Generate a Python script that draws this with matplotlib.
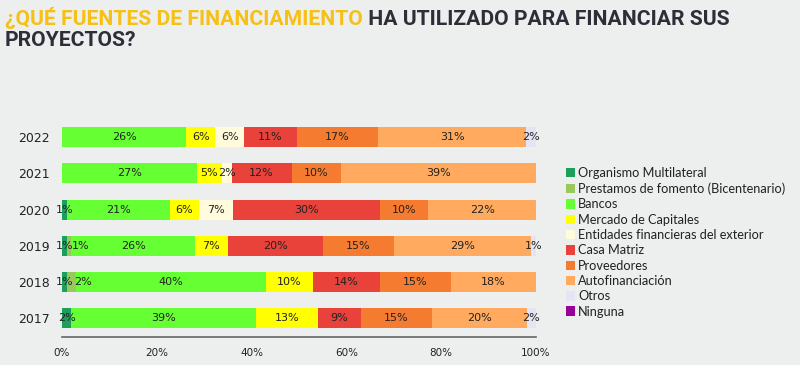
import matplotlib.pyplot as plt
import numpy as np

plt.rcParams['font.family'] = 'DejaVu Sans'

years = ['2017', '2018', '2019', '2020', '2021', '2022']
categories = ['Organismo Multilateral', 'Prestamos de fomento (Bicentenario)', 'Bancos',
              'Mercado de Capitales', 'Entidades financieras del exterior', 'Casa Matriz',
              'Proveedores', 'Autofinanciación', 'Otros', 'Ninguna']
colors = ['#1aa05a', '#98c95a', '#66ff33', '#ffff00', '#fffbdc', '#e8423a',
          '#f47b30', '#ffaa5e', '#e4e4f4', '#990099']

# percentages per category, one value per year (2017..2022)
organismo = [2, 1, 1, 1, 0, 0]
prestamos = [0, 2, 1, 0, 0, 0]
bancos = [39, 40, 26, 21, 27, 26]
mercado = [13, 10, 7, 6, 5, 6]
entidades = [0, 0, 0, 7, 2, 6]
casa_matriz = [9, 14, 20, 30, 12, 11]
proveedores = [15, 15, 15, 10, 10, 17]
autofin = [20, 18, 29, 22, 39, 31]
otros = [2, 0, 1, 0, 0, 2]
ninguna = [0, 0, 0, 0, 0, 0]

series = [organismo, prestamos, bancos, mercado, entidades, casa_matriz,
          proveedores, autofin, otros, ninguna]

bg = '#edeeee'
dark = '#2e2e38'

fig = plt.figure(figsize=(8, 3.65), dpi=100, facecolor=bg)
ax = fig.add_axes([0.0775, 0.0767, 0.5925, 0.597], facecolor=bg)

data = np.array(series, dtype=float)
totals = data.sum(axis=0)
shares = data / totals * 100  # bars are drawn as 100% stacked
y = np.arange(len(years))
left = np.zeros(len(years))
for i, cat in enumerate(categories):
    ax.barh(y, shares[i], left=left, height=0.55, color=colors[i], label=cat)
    for j in range(len(years)):
        v = data[i, j]
        if v > 0:
            cx = left[j] + shares[i, j] / 2
            if i == 1:
                cx += 2.5  # small labels pushed off the segment
            ax.text(cx, y[j], '%d%%' % v, ha='center', va='center',
                    fontsize=8, color='#222222', family='DejaVu Sans')
    left += shares[i]

ax.set_xlim(0, 100)
ax.set_ylim(-0.52, 5.5)
ax.set_yticks(y)
ax.set_yticklabels(years, fontsize=9, color='#222222', family='DejaVu Sans')
ax.set_xticks([0, 20, 40, 60, 80, 100])
ax.set_xticklabels(['0%', '20%', '40%', '60%', '80%', '100%'], fontsize=7.5,
                   color='#222222', family='DejaVu Sans')
ax.tick_params(length=0)
ax.tick_params(axis='y', pad=8.5)
ax.tick_params(axis='x', pad=8)
for s in ['top', 'right', 'left']:
    ax.spines[s].set_visible(False)
ax.spines['bottom'].set_color('#666666')
ax.spines['bottom'].set_linewidth(1.2)

handles, labels = ax.get_legend_handles_labels()
leg = fig.legend(handles, labels, loc='upper left', bbox_to_anchor=(0.701, 0.556),
                 frameon=False, prop={'family': 'Lato', 'size': 9.2},
                 handlelength=0.75, handleheight=0.75,
                 handletextpad=0.2, labelspacing=0.26, borderaxespad=0)
for t in leg.get_texts():
    t.set_color('#222222')

title_font = dict(fontsize=15.2, fontweight='bold', family=['Roboto', 'DejaVu Sans'])
t1 = fig.text(0.006, 0.9315, '¿QUÉ FUENTES DE FINANCIAMIENTO', color='#f5c116',
              va='baseline', **title_font)
fig.canvas.draw()
bb = t1.get_window_extent()
x2 = bb.x1 / fig.bbox.width
fig.text(x2, 0.9315, ' HA UTILIZADO PARA FINANCIAR SUS', color=dark, va='baseline', **title_font)
fig.text(0.006, 0.873, 'PROYECTOS?', color=dark, va='baseline', **title_font)

fig.savefig('out.png', dpi=100, facecolor=bg)
